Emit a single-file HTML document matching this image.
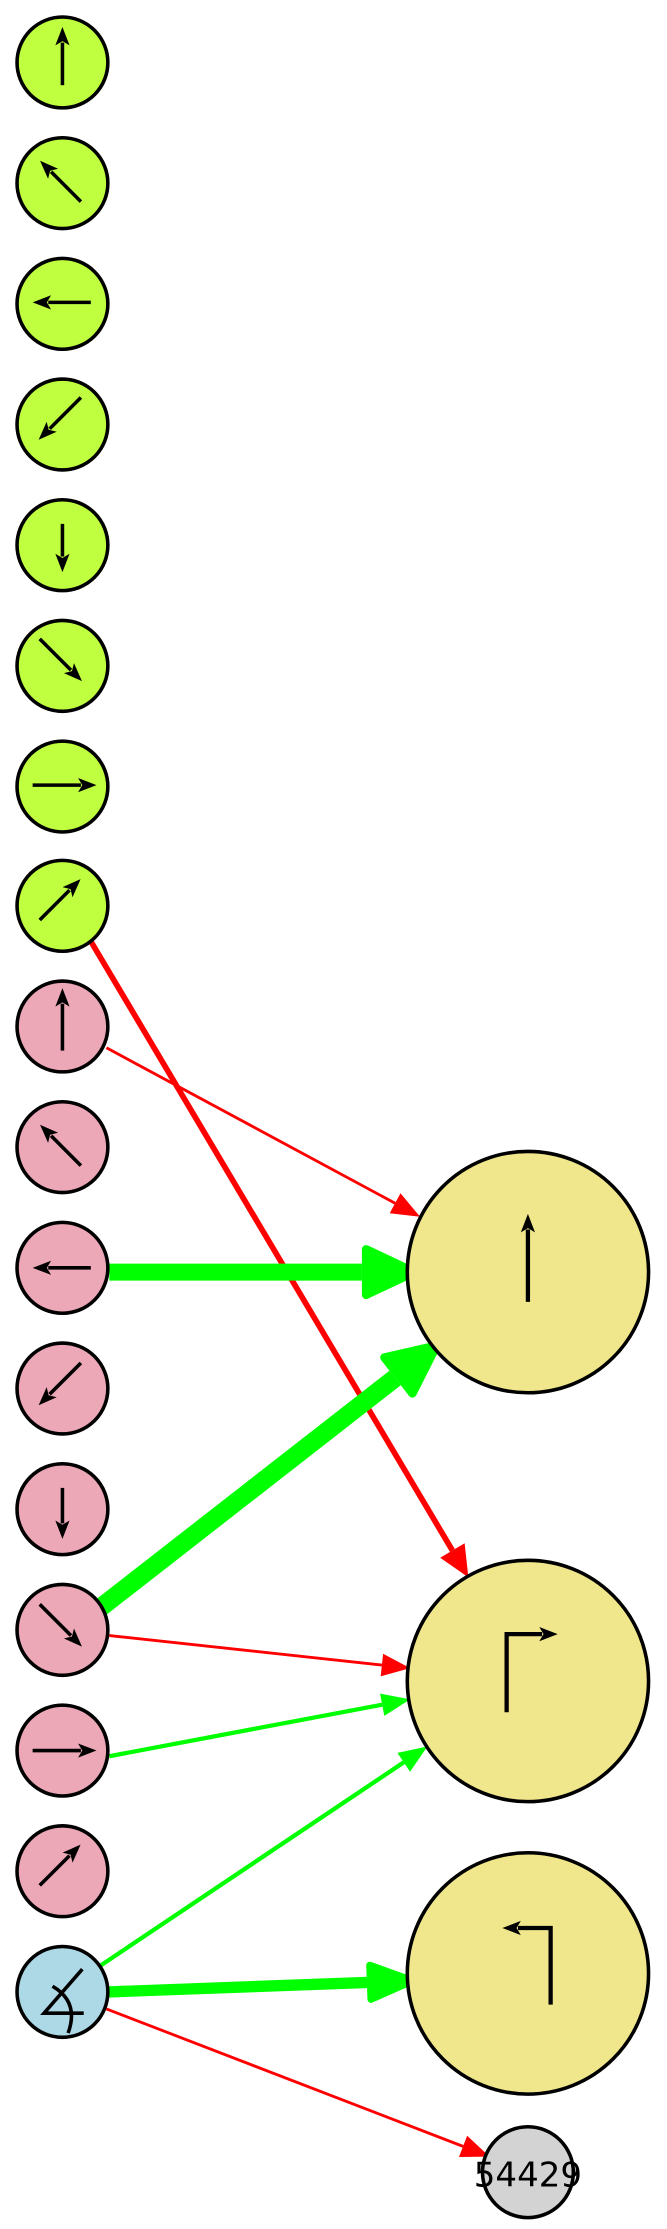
<!DOCTYPE html>
<html><head><meta charset="utf-8"><style>html,body{margin:0;padding:0;background:#fff}svg{display:block}</style></head>
<body>
<svg width="667" height="2229" viewBox="0 0 470 1570" preserveAspectRatio="none" xmlns="http://www.w3.org/2000/svg">
<defs>
<marker id="ka" markerUnits="userSpaceOnUse" refX="0" refY="0" orient="auto" overflow="visible" markerWidth="1" markerHeight="1"><path d="M-2,-5 L11,0 L-2,5 L1,0 z" fill="#000"/></marker>
<marker id="rs" markerUnits="userSpaceOnUse" refX="0" refY="0" orient="auto" overflow="visible" markerWidth="1" markerHeight="1"><path d="M0,-8 L20,0 L0,8 z" fill="#f00"/></marker>
<marker id="rl" markerUnits="userSpaceOnUse" refX="0" refY="0" orient="auto" overflow="visible" markerWidth="1" markerHeight="1"><path d="M0,-10 L22,0 L0,10 z" fill="#f00"/></marker>
<marker id="gs" markerUnits="userSpaceOnUse" refX="0" refY="0" orient="auto" overflow="visible" markerWidth="1" markerHeight="1"><path d="M0,-8 L20,0 L0,8 z" fill="#0f0"/></marker>
<marker id="gm" markerUnits="userSpaceOnUse" refX="0" refY="0" orient="auto" overflow="visible" markerWidth="1" markerHeight="1"><path d="M2,-12 L32,0 L2,12 z" fill="#0f0" stroke="#0f0" stroke-width="5" stroke-linejoin="round"/></marker>
<marker id="gl" markerUnits="userSpaceOnUse" refX="0" refY="0" orient="auto" overflow="visible" markerWidth="1" markerHeight="1"><path d="M3,-16 L37,0 L3,16 z" fill="#0f0" stroke="#0f0" stroke-width="6" stroke-linejoin="round"/></marker>
</defs>

<g fill="none">
<line x1="64" y1="663" x2="318.8" y2="1092.1" stroke="#f00" stroke-width="4" marker-end="url(#rl)"/>
<line x1="75" y1="738" x2="278.4" y2="847.5" stroke="#f00" stroke-width="2" marker-end="url(#rs)"/>
<line x1="77" y1="896" x2="255" y2="896" stroke="#0f0" stroke-width="12" marker-end="url(#gl)"/>
<line x1="70" y1="1133" x2="278.4" y2="970.6" stroke="#0f0" stroke-width="13" marker-end="url(#gl)"/>
<line x1="77" y1="1152" x2="269.1" y2="1172.8" stroke="#f00" stroke-width="2" marker-end="url(#rs)"/>
<line x1="77" y1="1237" x2="269.3" y2="1200.7" stroke="#0f0" stroke-width="3" marker-end="url(#gs)"/>
<line x1="70" y1="1385" x2="284.5" y2="1241.3" stroke="#0f0" stroke-width="3" marker-end="url(#gs)"/>
<line x1="77" y1="1403" x2="259" y2="1396.3" stroke="#0f0" stroke-width="8" marker-end="url(#gm)"/>
<line x1="75" y1="1415" x2="326.3" y2="1511.8" stroke="#f00" stroke-width="2" marker-end="url(#rs)"/>
</g>

<g stroke="#000" stroke-width="2.5">
<circle cx="44" cy="44" r="32" fill="#c0ff40"/>
<circle cx="44" cy="129" r="32" fill="#c0ff40"/>
<circle cx="44" cy="214" r="32" fill="#c0ff40"/>
<circle cx="44" cy="299" r="32" fill="#c0ff40"/>
<circle cx="44" cy="384" r="32" fill="#c0ff40"/>
<circle cx="44" cy="469" r="32" fill="#c0ff40"/>
<circle cx="44" cy="554" r="32" fill="#c0ff40"/>
<circle cx="44" cy="638" r="32" fill="#c0ff40"/>
<circle cx="44" cy="723" r="32" fill="#eda8b7"/>
<circle cx="44" cy="808" r="32" fill="#eda8b7"/>
<circle cx="44" cy="893" r="32" fill="#eda8b7"/>
<circle cx="44" cy="978" r="32" fill="#eda8b7"/>
<circle cx="44" cy="1063" r="32" fill="#eda8b7"/>
<circle cx="44" cy="1148" r="32" fill="#eda8b7"/>
<circle cx="44" cy="1233" r="32" fill="#eda8b7"/>
<circle cx="44" cy="1318" r="32" fill="#eda8b7"/>
<circle cx="44" cy="1403" r="32" fill="#add8e6"/>
<circle cx="372" cy="896" r="85" fill="#f0e68c"/>
<circle cx="372" cy="1184" r="85" fill="#f0e68c"/>
<circle cx="372" cy="1390" r="85" fill="#f0e68c"/>
<circle cx="372" cy="1530" r="32" fill="#d3d3d3"/>
</g>

<g stroke="#000" stroke-width="2.5" marker-end="url(#ka)">
<line x1="44" y1="60" x2="44" y2="30"/>
<line x1="57" y1="142" x2="36" y2="121"/>
<line x1="64" y1="213" x2="34" y2="213"/>
<line x1="57" y1="280" x2="35" y2="302"/>
<line x1="44" y1="369" x2="44" y2="392"/>
<line x1="28" y1="450" x2="50" y2="472"/>
<line x1="23" y1="553" x2="57" y2="553"/>
<line x1="28" y1="648" x2="49" y2="627"/>
<line x1="44" y1="740" x2="44" y2="707"/>
<line x1="57" y1="821" x2="36" y2="800"/>
<line x1="64" y1="893" x2="34" y2="893"/>
<line x1="57" y1="960" x2="35" y2="982"/>
<line x1="44" y1="1048" x2="44" y2="1073"/>
<line x1="28" y1="1130" x2="50" y2="1152"/>
<line x1="23" y1="1233" x2="57" y2="1233"/>
<line x1="28" y1="1328" x2="49" y2="1307"/>
</g>
<g stroke="#000" stroke-width="3" fill="none">
<line x1="372" y1="917" x2="372" y2="866" marker-end="url(#ka)"/>
<polyline points="357,1206 357,1151 382,1151" marker-end="url(#ka)"/>
<polyline points="388,1412 388,1358 365,1358" marker-end="url(#ka)"/>
</g>
<g stroke="#000" stroke-width="2.5" fill="none">
<polyline points="58,1387 31,1418 59,1418"/>
<path d="M37,1399 Q56,1410 48,1432"/>
</g>
<text x="372" y="1540" text-anchor="middle" font-family="DejaVu Sans, Liberation Sans, sans-serif" font-size="24" fill="#000">54429</text>
</svg>
</body></html>
